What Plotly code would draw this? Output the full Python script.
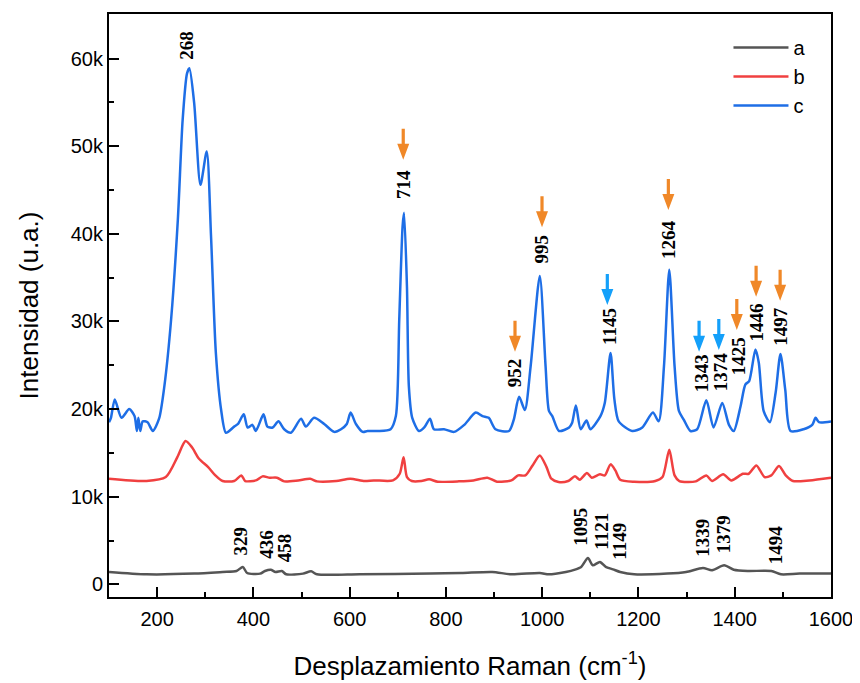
import plotly.graph_objects as go

# ---------------- data ----------------
c_x = [100, 104, 112, 126, 142, 153, 158, 161, 165, 170, 180, 191, 204, 215, 229, 243, 253, 262, 267, 277,
       290, 303, 312, 322, 333, 343, 360, 368, 380, 388, 398, 405, 421, 429, 440, 452, 464, 478, 499, 509,
       526, 547, 568, 582, 594, 602, 613, 627, 637, 658, 685, 696, 703, 710, 713, 719, 723, 730, 744, 755,
       767, 775, 796, 817, 838, 862, 876, 889, 903, 931, 941, 952, 964, 976, 995, 1007, 1014, 1021, 1035, 1056,
       1062, 1070, 1080, 1092, 1100, 1121, 1130, 1142, 1150, 1159, 1187, 1208, 1230, 1242, 1253, 1264, 1275, 1284, 1294, 1308,
       1322, 1341, 1356, 1374, 1388, 1398, 1412, 1422, 1430, 1443, 1450, 1460, 1473, 1485, 1495, 1505, 1516, 1543, 1561, 1568,
       1575, 1600]
c_y = [18500, 19000, 21100, 19000, 20000, 19200, 17500, 19000, 17500, 18600, 18500, 17500, 18900, 22600, 30200, 41600, 53000, 58300, 58900, 54900,
       45600, 49400, 39700, 26400, 19900, 17300, 18000, 18300, 19400, 17900, 18200, 17500, 19400, 18000, 17900, 18600, 17700, 17300, 18900, 18000,
       19000, 18300, 17400, 17700, 18300, 19600, 18300, 17400, 17500, 17500, 17700, 19200, 30200, 40900, 42400, 34000, 22600, 19000, 17500, 17900,
       18900, 17700, 17700, 17400, 18200, 19600, 19200, 19000, 17700, 17500, 18800, 21400, 19900, 24900, 35200, 24900, 19800, 19200, 17500, 17900,
       18400, 20400, 17700, 18700, 17700, 19200, 20700, 26400, 21100, 18600, 17500, 17900, 19600, 18600, 24900, 35900, 24900, 19800, 18800, 17500,
       17700, 21000, 17900, 20700, 18200, 17500, 20300, 22800, 23200, 26800, 25300, 19800, 18500, 21900, 26300, 22200, 17500, 17700, 18200, 19000,
       18500, 18600]

b_x = [100, 178, 218, 242, 259, 272, 287, 306, 321, 336, 360, 375, 383, 405, 419, 434, 449, 464, 493, 518,
       532, 572, 601, 631, 650, 690, 704, 712, 719, 729, 749, 765, 783, 827, 857, 886, 906, 936, 950, 965,
       980, 995, 1009, 1019, 1034, 1054, 1068, 1078, 1093, 1103, 1120, 1130, 1142, 1152, 1162, 1191, 1235, 1250, 1264, 1275,
       1285, 1319, 1341, 1353, 1376, 1393, 1417, 1429, 1445, 1462, 1476, 1492, 1506, 1521, 1555, 1600]
b_y = [12050, 11790, 12240, 14520, 16350, 15670, 14330, 13380, 12430, 11790, 11790, 12430, 11790, 11860, 12320, 12170, 12170, 11750, 11860, 12050,
       11750, 11790, 12050, 11790, 11860, 11860, 12620, 14500, 12240, 11790, 11790, 11980, 11710, 11750, 11860, 12170, 11710, 11860, 12430, 12430,
       13570, 14710, 13380, 12050, 11670, 11790, 12320, 11940, 12700, 12170, 12550, 12430, 13690, 13000, 11940, 11710, 11790, 12240, 15360, 12430,
       11790, 11750, 12430, 11790, 12550, 11860, 12620, 12620, 13570, 12240, 12430, 13500, 12430, 11790, 11860, 12170]

a_x = [100, 178, 277, 336, 365, 378, 387, 414, 424, 436, 446, 459, 468, 503, 520, 532, 621, 768, 832, 896,
       936, 995, 1014, 1049, 1068, 1081, 1095, 1105, 1120, 1132, 1147, 1162, 1191, 1260, 1299, 1334, 1353, 1378, 1398, 1427,
       1476, 1496, 1535, 1600]
a_y = [1410, 1140, 1220, 1410, 1520, 1980, 1290, 1220, 1520, 1670, 1410, 1520, 1140, 1220, 1480, 1140, 1140, 1220, 1290, 1410,
       1140, 1290, 1140, 1410, 1670, 1980, 3000, 2170, 2550, 1980, 1710, 1410, 1140, 1220, 1410, 1860, 1600, 2170, 1670, 1520,
       1520, 1140, 1220, 1220]

series_names = ["a", "b", "c"]

x_tick_vals = [200, 400, 600, 800, 1000, 1200, 1400, 1600]
x_tick_text = ["200", "400", "600", "800", "1000", "1200", "1400", "1600"]
y_tick_vals = [0, 10000, 20000, 30000, 40000, 50000, 60000]
y_tick_text = ["0", "10k", "20k", "30k", "40k", "50k", "60k"]

c_peak_labels = ["268", "714", "952", "995", "1145", "1264", "1343", "1374", "1425", "1446", "1497"]
a_peak_labels = ["329", "436", "458", "1095", "1121", "1149", "1339", "1379", "1494"]

# ---------------- placement ----------------
c_label_pos = [(262, 61600), (713, 45600), (942, 24110), (999, 38290), (1139.5, 29410), (1263.6, 39310),
               (1330, 24110), (1369.6, 24230), (1407.6, 26090), (1444.4, 29910), (1496.4, 29410)]
a_label_pos = [(373, 4937), (427, 4571), (464.6, 4171), (1079.8, 6514), (1123.3, 6057), (1160.7, 4914),
               (1333, 5371), (1375.4, 5714), (1483.7, 4457)]

ORANGE = "#F08828"
LBLUE = "#14A0FA"
arrows = [(711.3, 48460, ORANGE), (943.5, 26550, ORANGE), (999.6, 40770, ORANGE), (1135.3, 31890, LBLUE),
          (1262.1, 42740, ORANGE), (1325.9, 26550, LBLUE), (1366.9, 26740, LBLUE), (1404.3, 29030, ORANGE),
          (1444.4, 32830, ORANGE), (1494.3, 32380, ORANGE)]

colors = ["#555555", "#F04040", "#1E6EE6"]
FONT = "Arial, Liberation Sans, sans-serif"
SERIF = "Times New Roman, Liberation Serif, serif"

fig = go.Figure()
for name, xs, ys, col in zip(series_names, [a_x, b_x, c_x], [a_y, b_y, c_y], colors):
    fig.add_trace(go.Scatter(x=xs, y=ys, mode="lines", name=name, legendgroup=name,
                             line=dict(color=col, width=2.5, shape="spline", smoothing=0.7)))

annotations = []
for txt, (x, y) in zip(c_peak_labels + a_peak_labels, c_label_pos + a_label_pos):
    annotations.append(dict(x=x, y=y, xref="x", yref="y", text="<b>%s</b>" % txt, showarrow=False,
                            textangle=-90, xanchor="center", yanchor="middle",
                            font=dict(family=SERIF, size=19, color="black")))

shapes = []
arrow_path = "M0,0 L-6,16 L-1.6,16 L-1.6,31 L1.6,31 L1.6,16 L6,16 Z"
for x, y, col in arrows:
    shapes.append(dict(type="path", xref="x", yref="y", xsizemode="pixel", ysizemode="pixel",
                       xanchor=x, yanchor=y, path=arrow_path, fillcolor=col,
                       line=dict(width=0)))

fig.update_layout(
    width=852, height=675,
    margin=dict(l=101, r=29, t=6, b=86),
    paper_bgcolor="white", plot_bgcolor="white",
    font=dict(family=FONT, color="black"),
    showlegend=True,
    legend=dict(x=0.858, y=0.976, xanchor="left", yanchor="top", bgcolor="rgba(0,0,0,0)",
                font=dict(size=20, family=FONT), tracegroupgap=0, itemwidth=55),
    annotations=annotations,
    shapes=shapes,
)
fig.update_xaxes(range=[100, 1600], showline=True, linewidth=2, linecolor="black", mirror=True,
                 automargin=False,
                 ticks="inside", ticklen=10, tickwidth=2, tickcolor="black",
                 tickvals=x_tick_vals, ticktext=x_tick_text, tickfont=dict(size=20, family=FONT),
                 ticklabelstandoff=3,
                 minor=dict(dtick=100, tick0=100, ticks="inside", ticklen=5, tickwidth=2, tickcolor="black"),
                 showgrid=False, zeroline=False,
                 title=dict(text="Desplazamiento Raman (cm<sup>-1</sup>)", font=dict(size=26, family=FONT), standoff=28))
fig.update_yaxes(range=[-1450, 65100], showline=True, linewidth=2, linecolor="black", mirror=True,
                 automargin=False,
                 ticks="inside", ticklen=10, tickwidth=2, tickcolor="black",
                 tickvals=y_tick_vals, ticktext=y_tick_text, tickfont=dict(size=20, family=FONT),
                 minor=dict(dtick=5000, tick0=0, ticks="inside", ticklen=5, tickwidth=2, tickcolor="black"),
                 showgrid=False, zeroline=False,
                 title=dict(text="Intensidad (u.a.)", font=dict(size=26, family=FONT), standoff=25))

fig.write_html("out.html")
